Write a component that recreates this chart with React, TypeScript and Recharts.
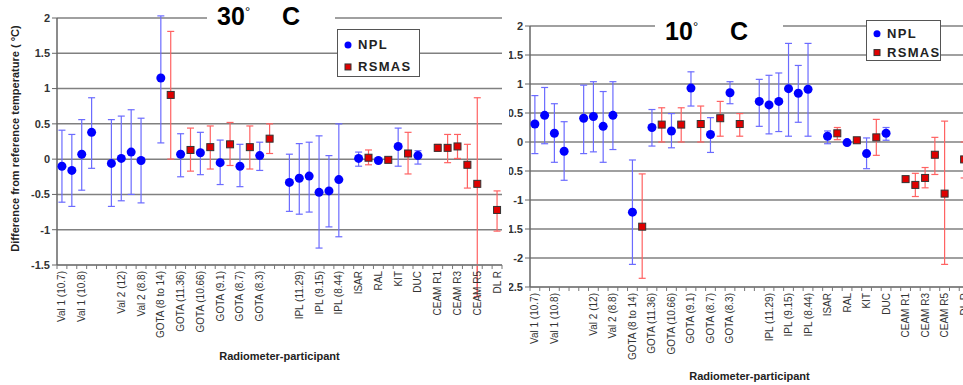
import React from "react";
import {
  ScatterChart,
  Scatter,
  XAxis,
  YAxis,
  CartesianGrid,
  ErrorBar,
  ReferenceLine,
  Label,
} from "recharts";

// x categories (45 slots); Excel only printed every other label, the rest stay blank
const slotLabels = [
  "Val 1 (10.7)", "", "Val 1 (10.8)", "", "", "", "Val 2 (12)", "", "Val 2 (8.8)", "",
  "GOTA (8 to 14)", "", "GOTA (11.36)", "", "GOTA (10.66)", "", "GOTA (9.1)", "", "GOTA (8.7)", "",
  "GOTA (8.3)", "", "", "", "IPL (11.29)", "", "IPL (9.15)", "", "IPL (8.44)", "",
  "ISAR", "", "RAL", "", "KIT", "", "DUC", "", "CEAM R1", "",
  "CEAM R3", "", "CEAM R5", "", "DL R",
];

// [slot, value, upper end of bar, lower end of bar]
type Pt = [number, number, number, number];

// 30 °C
const npl30: Pt[] = [
  [0, -0.1, 0.41, -0.61], [1, -0.16, 0.35, -0.67], [2, 0.07, 0.56, -0.44], [3, 0.38, 0.87, -0.13],
  [5, -0.06, 0.56, -0.67], [6, 0.01, 0.61, -0.59], [7, 0.1, 0.7, -0.5], [8, -0.02, 0.58, -0.62],
  [10, 1.15, 2.03, 0.23], [12, 0.07, 0.36, -0.25], [14, 0.09, 0.38, -0.22], [16, -0.05, 0.27, -0.36],
  [18, -0.1, 0.21, -0.39], [20, 0.05, 0.24, -0.16], [23, -0.33, 0.07, -0.74], [24, -0.27, 0.22, -0.78],
  [25, -0.24, 0.24, -0.75], [26, -0.47, 0.33, -1.26], [27, -0.45, 0.05, -0.96], [28, -0.29, 0.5, -1.1],
  [30, 0.01, 0.1, -0.1], [32, -0.02, -0.02, -0.02], [34, 0.18, 0.44, -0.1], [36, 0.05, 0.12, -0.07],
];
const rsmas30: Pt[] = [
  [11, 0.91, 1.81, 0.0], [13, 0.13, 0.44, -0.17], [15, 0.17, 0.47, -0.14], [17, 0.21, 0.52, -0.09],
  [19, 0.17, 0.47, -0.14], [21, 0.29, 0.5, 0.08], [31, 0.02, 0.13, -0.08], [33, -0.01, 0.02, -0.04],
  [35, 0.08, 0.38, -0.21], [38, 0.16, 0.21, 0.11], [39, 0.16, 0.35, -0.05], [40, 0.18, 0.35, 0.01],
  [41, -0.08, 0.21, -0.41], [42, -0.35, 0.87, -1.95], [44, -0.72, -0.45, -1.02],
];

// 10 °C
const npl10: Pt[] = [
  [0, 0.31, 0.8, -0.2], [1, 0.46, 0.94, -0.03], [2, 0.15, 0.66, -0.35], [3, -0.16, 0.35, -0.66],
  [5, 0.41, 0.98, -0.2], [6, 0.44, 1.04, -0.17], [7, 0.27, 0.87, -0.35], [8, 0.46, 1.04, -0.13],
  [10, -1.21, -0.31, -2.11], [12, 0.25, 0.56, -0.07], [14, 0.19, 0.49, -0.1], [16, 0.93, 1.21, 0.62],
  [18, 0.13, 0.42, -0.18], [20, 0.85, 1.04, 0.66], [23, 0.7, 1.08, 0.27], [24, 0.64, 1.15, 0.14],
  [25, 0.7, 1.19, 0.18], [26, 0.92, 1.7, 0.1], [27, 0.84, 1.32, 0.34], [28, 0.91, 1.7, 0.1],
  [30, 0.1, 0.19, -0.03], [32, -0.01, -0.01, -0.01], [34, -0.2, 0.07, -0.46], [36, 0.15, 0.25, 0.03],
];
const rsmas10: Pt[] = [
  [11, -1.46, -0.55, -2.35], [13, 0.3, 0.59, 0.0], [15, 0.3, 0.59, 0.0], [17, 0.31, 0.62, 0.0],
  [19, 0.41, 0.7, 0.1], [21, 0.31, 0.49, 0.1], [31, 0.15, 0.25, 0.04], [33, 0.03, 0.03, 0.03],
  [35, 0.08, 0.39, -0.23], [38, -0.64, -0.6, -0.69], [39, -0.74, -0.54, -0.94], [40, -0.62, -0.44, -0.79],
  [41, -0.22, 0.08, -0.56], [42, -0.89, 0.36, -2.11], [44, -0.3, 0.0, -0.62],
];

const yTicks30 = [-1.5, -1, -0.5, 0, 0.5, 1, 1.5, 2];
const yTicks10 = [-2.5, -2, -1.5, -1, -0.5, 0, 0.5, 1, 1.5, 2];

const FONT = '"Liberation Sans", Arial, sans-serif';
const BLUE = "#0000ff";
const RED = "#e00000";
const BLUE_BAR = "#6b6bff";
const RED_BAR = "#ff6262";
const GRID = "#808080";

// slot boundaries (integers) get a tick mark, slot centres (x.5) get the label
const xTicks = Array.from({ length: 91 }, (_, i) => i / 2);

const toScatter = (pts: Pt[]) =>
  pts.map(([slot, v, hi, lo]) => ({ x: slot + 0.5, y: v, err: [v - lo, hi - v] }));

function SlotTick(props: any) {
  const { x, y, payload } = props;
  const v = payload.value;
  if (Number.isInteger(v)) {
    return <line x1={x} x2={x} y1={y} y2={y + 4} stroke="#777" strokeWidth={1} />;
  }
  const text = slotLabels[Math.floor(v)];
  if (!text) return <g />;
  const ty = y + 6;
  return (
    <text
      x={x}
      y={ty}
      transform={`rotate(-90 ${x} ${ty})`}
      textAnchor="end"
      dominantBaseline="central"
      fontSize={10}
      fontFamily={FONT}
      fill="#333"
    >
      {text}
    </text>
  );
}

const NplDot = (p: any) => <circle cx={p.cx} cy={p.cy} r={4.5} fill={BLUE} />;
const RsmasDot = (p: any) => (
  <rect x={p.cx - 3.5} y={p.cy - 3.5} width={7} height={7} fill={RED} stroke="#333" strokeWidth={1} />
);

interface PanelProps {
  width: number;
  top: number;
  right: number;
  yAxisWidth: number;
  xAxisHeight: number;
  yTicks: number[];
  npl: Pt[];
  rsmas: Pt[];
  xTitleOffset: number;
  yTitle?: boolean;
}

function Panel({ width, top, right, yAxisWidth, xAxisHeight, yTicks, npl, rsmas, xTitleOffset, yTitle }: PanelProps) {
  const yMin = yTicks[0];
  const yMax = yTicks[yTicks.length - 1];
  // bars that run past the bottom of the plot are drawn unclipped below it
  const overflow = rsmas.filter((p) => p[3] < yMin);

  return (
    <ScatterChart width={width} height={385} margin={{ top, right, bottom: 0, left: 0 }}>
      <CartesianGrid vertical={false} stroke={GRID} strokeWidth={1.5} />
      <XAxis
        type="number"
        dataKey="x"
        domain={[0, 45]}
        ticks={xTicks}
        interval={0}
        allowDataOverflow
        height={xAxisHeight}
        tickSize={0}
        tickMargin={0}
        tickLine={false}
        axisLine={{ stroke: GRID, strokeWidth: 1.5 }}
        tick={(p: any) => <SlotTick {...p} />}
      >
        <Label
          value="Radiometer-participant"
          position="insideBottom"
          offset={xTitleOffset}
          fontSize={11}
          fontWeight="bold"
          fontFamily={FONT}
          fill="#222"
        />
      </XAxis>
      <YAxis
        type="number"
        dataKey="y"
        domain={[yMin, yMax]}
        ticks={yTicks}
        interval={0}
        allowDataOverflow
        width={yAxisWidth}
        tickSize={5}
        axisLine={{ stroke: "#666", strokeWidth: 1.5 }}
        tickLine={{ stroke: "#666" }}
        tick={{ fill: "#333", fontSize: 11, fontWeight: "bold", fontFamily: FONT }}
      >
        {yTitle && (
          <Label
            content={(p: any) => {
              const vb = p.viewBox || { x: 0, y: 0, height: 0 };
              const cx = vb.x + 15;
              const cy = vb.y + vb.height / 2 - 3;
              return (
                <text
                  x={cx}
                  y={cy}
                  transform={`rotate(-90 ${cx} ${cy})`}
                  textAnchor="middle"
                  dominantBaseline="central"
                  fontSize={11}
                  fontWeight="bold"
                  fontFamily={FONT}
                  fill="#222"
                >
                  Difference from reference temperature ( °C)
                </text>
              );
            }}
          />
        )}
      </YAxis>
      {overflow.map(([slot, , , lo]) => (
        <ReferenceLine
          key={`ovf-${slot}`}
          segment={[
            { x: slot + 0.5, y: yMin },
            { x: slot + 0.5, y: lo },
          ]}
          ifOverflow="visible"
          stroke={RED_BAR}
          strokeWidth={1.2}
        />
      ))}
      <Scatter name="NPL" data={toScatter(npl)} shape={NplDot} isAnimationActive={false}>
        <ErrorBar dataKey="err" direction="y" width={3.5} stroke={BLUE_BAR} strokeWidth={1.2} isAnimationActive={false} />
      </Scatter>
      <Scatter name="RSMAS" data={toScatter(rsmas)} shape={RsmasDot} isAnimationActive={false}>
        <ErrorBar dataKey="err" direction="y" width={3.5} stroke={RED_BAR} strokeWidth={1.2} isAnimationActive={false} />
      </Scatter>
    </ScatterChart>
  );
}

function LegendBox({ left, top, width, height }: { left: number; top: number; width: number; height: number }) {
  const r1 = height * 0.31;
  const r2 = height * 0.77;
  return (
    <div
      style={{
        position: "absolute",
        left,
        top,
        width,
        height,
        background: "#fff",
        border: "1px solid #555",
        boxSizing: "border-box",
      }}
    >
      <svg width={width - 2} height={height - 2} style={{ display: "block" }}>
        <circle cx={10} cy={r1} r={3.5} fill={BLUE} />
        <text x={20} y={r1} dominantBaseline="central" fontSize={13} fontWeight="bold" letterSpacing={1.3} fontFamily={FONT} fill="#222">
          NPL
        </text>
        <rect x={7} y={r2 - 3} width={6} height={6} fill={RED} stroke="#333" strokeWidth={1} />
        <text x={20} y={r2} dominantBaseline="central" fontSize={13} fontWeight="bold" letterSpacing={1.3} fontFamily={FONT} fill="#222">
          RSMAS
        </text>
      </svg>
    </div>
  );
}

function Title({ left, top, value }: { left: number; top: number; value: string }) {
  const big: React.CSSProperties = {
    position: "absolute",
    top: 0,
    font: `bold 25px/25px ${FONT}`,
    color: "#000",
  };
  return (
    <div style={{ position: "absolute", left, top, width: 128, height: 30, background: "#fff" }}>
      <span style={{ ...big, left: 10 }}>{value}</span>
      <span style={{ position: "absolute", left: 38, top: 1, font: `13px/13px ${FONT}`, color: "#000" }}>°</span>
      <span style={{ ...big, left: 75 }}>C</span>
    </div>
  );
}

export default function App() {
  return (
    <div
      style={{
        position: "absolute",
        left: 0,
        top: 0,
        width: 963,
        height: 385,
        overflow: "hidden",
        background: "#fff",
        fontFamily: FONT,
      }}
    >
      {/* 10 °C panel, partly hidden under the 30 °C panel and cut at the right edge */}
      <div style={{ position: "absolute", left: 470, top: 0 }}>
        <Panel
          width={520}
          top={26}
          right={21}
          yAxisWidth={60}
          xAxisHeight={98}
          yTicks={yTicks10}
          npl={npl10}
          rsmas={rsmas10}
          xTitleOffset={5}
        />
      </div>
      <Title left={655} top={19} value="10" />
      <LegendBox left={866} top={20} width={75} height={41} />

      {/* 30 °C panel */}
      <div style={{ position: "absolute", left: 0, top: 0, width: 509, height: 385, background: "#fff" }}>
        <Panel
          width={509}
          top={18}
          right={7}
          yAxisWidth={57}
          xAxisHeight={120}
          yTicks={yTicks30}
          npl={npl30}
          rsmas={rsmas30}
          xTitleOffset={25}
          yTitle
        />
        <Title left={207} top={4} value="30" />
        <LegendBox left={337} top={29} width={83} height={48} />
      </div>
    </div>
  );
}
